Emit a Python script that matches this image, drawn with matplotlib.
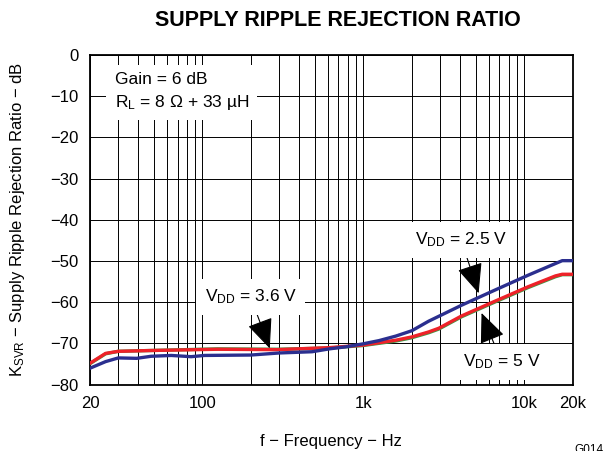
import matplotlib
matplotlib.use("Agg")
import matplotlib.pyplot as plt
from matplotlib.ticker import FixedLocator, NullLocator

plt.rcParams["font.family"] = ["Liberation Sans", "DejaVu Sans"]
plt.rcParams["mathtext.fontset"] = "custom"
plt.rcParams["mathtext.rm"] = "Liberation Sans"
plt.rcParams["mathtext.default"] = "regular"

# VDD = 2.5 V
freq_25 = [20, 25, 30, 39, 48, 64, 85, 103, 200, 300, 480, 615, 780, 990,
           1250, 1590, 2000, 2540, 2940, 4080, 6600, 10600, 15600, 17200, 20000]
ksvr_25 = [-76.0, -74.4, -73.5, -73.6, -73.1, -72.9, -73.2, -72.9, -72.8, -72.3,
           -72.0, -71.3, -70.8, -70.1, -69.3, -68.2, -66.9, -64.6, -63.4, -60.7,
           -57.0, -53.4, -50.6, -49.9, -49.9]

# VDD = 5 V
freq_5 = [20, 25, 30, 48, 124, 290, 615, 990, 1590, 2000, 2540, 2940, 4080,
          6600, 10600, 15600, 17200, 20000]
ksvr_5 = [-74.8, -72.4, -71.9, -71.7, -71.4, -71.5, -71.0, -70.4, -69.2, -68.4,
          -67.2, -66.3, -63.3, -59.7, -56.2, -53.6, -53.2, -53.2]

# VDD = 3.6 V (sits just under the 5 V trace)
freq_36 = [20, 25, 30, 48, 124, 290, 615, 990, 1590, 2000, 2540, 2940, 4080,
           6600, 10600, 15600, 17200, 20000]
ksvr_36 = [-74.9, -72.5, -71.9, -71.7, -71.3, -71.4, -71.1, -70.5, -69.4, -68.6,
           -67.4, -66.5, -63.5, -59.9, -56.4, -53.8, -53.3, -53.3]

x_ticks = [20, 100, 1000, 10000, 20000]
x_ticklabels = ["20", "100", "1k", "10k", "20k"]
y_ticks = [0, -10, -20, -30, -40, -50, -60, -70, -80]
grid_x = [20, 30, 40, 50, 60, 70, 80, 90, 100, 200, 300, 400, 500, 600, 700, 800, 900,
          1000, 2000, 3000, 4000, 5000, 6000, 7000, 8000, 9000, 10000, 20000]

fig = plt.figure(figsize=(6.10, 4.51), dpi=100)
ax = fig.add_axes([0.1475, 0.147, 0.7915, 0.731])

ax.set_xscale("log")
ax.set_xlim(20, 20000)
ax.set_ylim(-80, 0)

for gx in grid_x:
    ax.axvline(gx, color="black", lw=0.7, zorder=1)
for gy in y_ticks:
    ax.axhline(gy, color="black", lw=0.7, zorder=1)

ax.plot(freq_36, ksvr_36, color="#3C9A46", lw=2.4, zorder=3)
ax.plot(freq_5, ksvr_5, color="#EE2229", lw=2.4, zorder=4)
ax.plot(freq_25, ksvr_25, color="#2B2F8F", lw=2.4, zorder=5)

ax.xaxis.set_major_locator(FixedLocator(x_ticks))
ax.xaxis.set_minor_locator(NullLocator())
ax.set_xticklabels(x_ticklabels)
ax.set_yticks(y_ticks)
ax.set_yticklabels([str(v).replace("-", "\u2212") for v in y_ticks])
ax.tick_params(length=0, labelsize=12, pad=8)
for s in ax.spines.values():
    s.set_linewidth(1.3)

fig.text(0.554, 0.954, "SUPPLY RIPPLE REJECTION RATIO", fontsize=15.5,
         fontweight="bold", ha="center", va="center")
ax.set_xlabel("f \u2212 Frequency \u2212 Hz", fontsize=12, va="center")
ax.xaxis.set_label_coords(0.5, -0.171)
ax.set_ylabel("K$_{SVR}$ \u2212 Supply Ripple Rejection Ratio \u2212 dB", fontsize=12,
              va="center")
ax.yaxis.set_label_coords(-0.151, 0.5)

box = dict(facecolor="white", edgecolor="none", pad=6)
ax.text(28.5, -8.9, "Gain = 6 dB\nR$_L$ = 8 \u03a9 + 33 \u00b5H", fontsize=12.5,
        ha="left", va="center", linespacing=1.45, bbox=box, zorder=6)

arrow = dict(arrowstyle="-|>,head_length=1.5,head_width=0.65", color="black", lw=0.8,
             shrinkA=0, shrinkB=0)
ax.annotate("V$_{DD}$ = 3.6 V", xy=(262, -71.2), xytext=(199, -58.7), fontsize=12.5,
            ha="center", va="center", bbox=box, arrowprops=arrow, zorder=7)
ax.annotate("V$_{DD}$ = 2.5 V", xy=(5200, -57.8), xytext=(4050, -44.9), fontsize=12.5,
            ha="center", va="center", bbox=box, arrowprops=arrow, zorder=7)
ax.annotate("V$_{DD}$ = 5 V", xy=(5420, -62.6), xytext=(7220, -74.5), fontsize=12.5,
            ha="center", va="center", bbox=box, arrowprops=arrow, zorder=7)

fig.text(0.942, -0.012, "G014", fontsize=8.5, ha="left", va="bottom")

fig.savefig("out.png", dpi=100)
